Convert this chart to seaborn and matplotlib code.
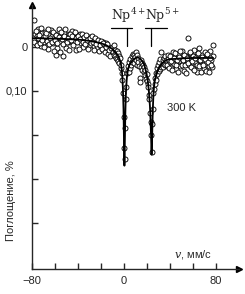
import numpy as np
import pandas as pd
import matplotlib
matplotlib.use("Agg")
import matplotlib.pyplot as plt
import seaborn as sns

# ---------------------------------
# DATA
# ---------------------------------
# velocity, mm/s  /  absorption (0,10 tick = 0.10)
left_v = [-78, -77, -76, -75, -74, -73, -72, -71, -70, -69, -68, -67, -66, -65,
          -64, -63, -62, -61, -60, -59, -58, -57, -56, -55, -54, -53, -52, -51,
          -50, -49, -48, -47, -46, -45, -44, -43, -42, -41, -40, -39, -38, -37,
          -36, -35, -34, -33, -32, -31, -30, -29, -28, -27, -26, -25, -24, -23,
          -22, -21, -20, -19, -18, -17, -16, -15, -14, -13, -12, -11, -10, -9]
left_a = [-0.061, -0.030, -0.008, -0.025, -0.040, -0.018, -0.002, -0.031, -0.022,
          -0.012, -0.035, -0.020, 0.004, -0.027, -0.015, -0.038, -0.024, -0.009,
          -0.030, 0.018, 0.002, -0.026, -0.042, -0.014, -0.021, 0.020, -0.032,
          -0.017, 0.003, -0.024, -0.011, -0.029, -0.019, -0.036, -0.008, -0.023,
          -0.014, 0.006, -0.027, -0.016, -0.030, -0.010, -0.021, 0.001, -0.018,
          -0.025, -0.008, -0.015, -0.022, -0.004, -0.013, -0.019, -0.002, -0.011,
          -0.016, 0.003, -0.009, -0.014, 0.001, -0.006, -0.012, 0.005, -0.003,
          -0.008, 0.008, 0.000, 0.012, 0.004, 0.010, 0.015]

left2_v = [-77.5, -76.5, -75.5, -74.5, -73.5, -72.5, -71.5, -70.5, -69.5, -68.5,
           -67.5, -66.5, -65.5, -64.5, -63.5, -62.5, -61.5, -60.5, -59.5, -58.5,
           -57.5, -56.5, -55.5, -54.5, -53.5, -52.5, -51.5, -50.5, -49.5, -48.5,
           -47.5, -46.5, -45.5, -44.5, -43.5, -42.5, -41.5, -40.5, -39.5, -38.5,
           -37.5, -36.5, -35.5, -34.5, -33.5, -32.5, -31.5, -30.5, -29.5, -28.5,
           -27.5, -26.5, -25.5, -24.5, -23.5, -22.5, -21.5, -20.5, -19.5, -18.5,
           -17.5, -16.5, -15.5, -14.5, -13.5, -12.5, -11.5, -10.5, -9.5]
left2_a = [-0.012, -0.036, -0.004, -0.020, -0.028, -0.010, -0.044, -0.016, 0.000,
           -0.024, -0.032, -0.014, -0.040, -0.006, -0.020, -0.012, -0.034, 0.008,
           -0.016, -0.028, -0.010, -0.022, 0.012, -0.034, -0.018, -0.006, -0.026,
           -0.040, -0.012, -0.020, 0.006, -0.030, -0.016, -0.024, -0.004, -0.033,
           -0.020, -0.012, -0.026, 0.004, -0.018, -0.030, -0.012, -0.022, -0.006,
           -0.028, -0.016, 0.004, -0.020, -0.008, -0.024, -0.012, 0.006, -0.020,
           -0.006, -0.016, 0.010, -0.004, -0.014, 0.004, -0.008, 0.012, 0.000,
           -0.006, 0.016, 0.006, 0.020, 0.002, 0.012]

center_v = [-8.5, -8, -7.5, -7, -6.5, -6, -5.5, -5, -4.5, -4, -3.5, -3, -2.5, -2,
            -1.5, -1, -0.5, 0, 0.5, 1, 1.5, 2, 2.5, 3, 3.5, 4, 4.5, 5, 5.5, 6,
            6.5, 7, 7.5, 8, 8.5, 9, 9.5, 10, 10.5, 11, 11.5, 12, 12.5, 13, 13.5,
            14, 14.5, 15, 15.5, 16, 16.5, 17, 17.5, 18, 18.5, 19, 19.5, 20, 20.5,
            21, 21.5, 22, 22.5, 23, 23.5, 24, 24.5, 25, 25.5, 26, 26.5, 27, 27.5,
            28, 28.5, 29, 29.5, 30, 30.5, 31, 31.5, 32, 32.5, 33, 33.5, 34, 34.5,
            35, 35.5, 36, 36.5, 37, 37.5]
center_a = [0.018, -0.004, 0.020, 0.006, 0.024, 0.010, 0.028, 0.014, 0.032, 0.020,
            0.036, 0.026, 0.048, 0.040, 0.060, 0.075, 0.105, 0.160, 0.230, 0.255,
            0.185, 0.118, 0.090, 0.060, 0.052, 0.044, 0.058, 0.035, 0.048, 0.028,
            0.040, 0.020, 0.034, 0.016, 0.030, 0.018, 0.036, 0.022, 0.012, 0.030,
            0.018, 0.040, 0.024, 0.034, 0.044, 0.070, 0.080, 0.030, 0.046, 0.036,
            0.052, 0.040, 0.058, 0.046, 0.064, 0.052, 0.072, 0.062, 0.078, 0.085,
            0.092, 0.110, 0.118, 0.150, 0.170, 0.200, 0.238, 0.175, 0.140, 0.105,
            0.095, 0.070, 0.085, 0.060, 0.075, 0.048, 0.062, 0.040, 0.055, 0.034,
            0.050, 0.028, 0.045, 0.011, 0.040, 0.030, 0.046, 0.024, 0.038, 0.020,
            0.042, 0.030, 0.044]

right_v = [38, 39, 40, 41, 42, 43, 44, 45, 46, 47, 48, 49, 50, 51, 52, 53, 54, 55,
           56, 57, 58, 59, 60, 61, 62, 63, 64, 65, 66, 67, 68, 69, 70, 71, 72, 73,
           74, 75, 76, 77, 78]
right_a = [0.040, 0.018, 0.034, 0.046, 0.022, 0.012, 0.038, 0.028, 0.050, 0.016,
           0.032, 0.044, 0.024, 0.010, 0.036, 0.054, 0.020, 0.030, -0.020, 0.042,
           0.014, 0.026, 0.048, 0.006, 0.034, 0.020, 0.056, 0.028, 0.002, 0.040,
           0.018, 0.030, 0.050, 0.012, 0.036, 0.024, 0.044, 0.008, 0.030, 0.046,
           0.020]

right2_v = [38.5, 39.5, 40.5, 41.5, 42.5, 43.5, 44.5, 45.5, 46.5, 47.5, 48.5, 49.5,
            50.5, 51.5, 52.5, 53.5, 54.5, 55.5, 56.5, 57.5, 58.5, 59.5, 60.5, 61.5,
            62.5, 63.5, 64.5, 65.5, 66.5, 67.5, 68.5, 69.5, 70.5, 71.5, 72.5, 73.5,
            74.5, 75.5, 76.5, 77.5]
right2_a = [0.028, 0.048, 0.020, 0.032, 0.052, 0.026, 0.014, 0.040, 0.030, 0.056,
            0.022, 0.008, 0.042, 0.030, 0.018, 0.040, 0.060, 0.024, 0.036, 0.012,
            0.046, 0.032, 0.020, 0.052, 0.026, 0.040, 0.014, 0.044, 0.030, 0.058,
            0.022, 0.040, 0.028, 0.054, 0.016, 0.034, 0.058, 0.024, 0.040, -0.004]

# fitted curve
fit_v = [-80, -60, -40, -30, -20, -15, -10, -8, -6, -5, -4, -3, -2, -1.5, -1, -0.5,
         0, 0.4, 0.8, 1.2, 1.6, 2, 2.5, 3, 3.5, 4, 5, 6, 8, 10, 12, 13, 14, 16, 18,
         20, 21, 22, 23, 23.5, 24, 24.4, 24.8, 25.2, 25.6, 26, 26.5, 27, 28, 29.6,
         31, 34, 37, 40, 50, 60, 70, 78]
fit_a = [-0.020, -0.019, -0.017, -0.014, -0.009, -0.004, 0.004, 0.009, 0.015, 0.019,
         0.024, 0.031, 0.042, 0.052, 0.068, 0.095, 0.140, 0.210, 0.270, 0.210,
         0.150, 0.110, 0.085, 0.068, 0.058, 0.051, 0.042, 0.037, 0.030, 0.026,
         0.024, 0.024, 0.026, 0.031, 0.040, 0.060, 0.075, 0.098, 0.135, 0.165,
         0.205, 0.245, 0.215, 0.170, 0.135, 0.110, 0.092, 0.080, 0.068, 0.055,
         0.046, 0.036, 0.030, 0.028, 0.026, 0.025, 0.025, 0.025]

# Np sites: marker position, bracket extent
site_labels = [r"$\mathrm{Np}^{4+}$", r"$\mathrm{Np}^{5+}$"]
site_v = [3.0, 24.3]
site_bar = [(-11.3, 7.0), (18.3, 37.4)]

x_ticks = [-80, -60, -40, -20, 0, 20, 40, 60, 80]
x_ticklabels = ["\u221280", "", "", "", "0", "", "", "", "80"]
y_ticks = [0, 0.1, 0.2, 0.3, 0.4]
y_ticklabels = ["0", "0,10", "", "", ""]

pts = pd.DataFrame({"v": left_v + left2_v + center_v + right_v + right2_v,
                    "a": left_a + left2_a + center_a + right_a + right2_a})
fit = pd.DataFrame({"v": fit_v, "a": fit_a})

# ---------------------------------
# PLOT
# ---------------------------------
sns.set_style("ticks")
plt.rcParams["font.family"] = ["Liberation Sans", "DejaVu Sans"]
plt.rcParams["mathtext.fontset"] = "dejavuserif"

fig = plt.figure(figsize=(2.45, 2.94), dpi=100)
ax = fig.add_axes([31.5 / 245, 25 / 294, 207 / 245, 264 / 294])

sns.scatterplot(data=pts, x="v", y="a", ax=ax, s=13, marker="o",
                facecolor="white", edgecolor="black", linewidth=0.65, zorder=2)
sns.lineplot(data=fit, x="v", y="a", ax=ax, color="black", linewidth=1.3,
             zorder=3, sort=False)

ax.set_xlim(-80, 100)
ax.set_ylim(0.505, -0.0955)

sns.despine(ax=ax)
for s in ["left", "bottom"]:
    ax.spines[s].set_linewidth(1.0)
ax.plot(1, 0, ">k", markersize=4, transform=ax.transAxes, clip_on=False)
ax.plot(0, 1, "^k", markersize=4, transform=ax.transAxes, clip_on=False)

ax.set_xticks(x_ticks)
ax.set_xticklabels(x_ticklabels)
ax.set_yticks(y_ticks)
ax.set_yticklabels(y_ticklabels)
ax.tick_params(direction="in", length=4, width=1.0, labelsize=8, pad=3)
ax.tick_params(axis="x", pad=5)

ax.set_xlabel("")
ax.set_ylabel("Поглощение, %", fontsize=8)
ax.yaxis.set_label_coords(-0.075, 0.26)

ax.text(44, 0.473, "$v$, мм/с", fontsize=8, ha="left", va="center")
ax.text(50, 0.139, "300 K", fontsize=8, ha="center", va="center")

# site markers
for lab, v, (b0, b1) in zip(site_labels, site_v, site_bar):
    ax.plot([b0, b1], [-0.043, -0.043], color="black", lw=0.9)
    ax.plot([v, v], [-0.043, -0.002], color="black", lw=0.9)
    ax.text(b0, -0.050, lab, fontsize=9, ha="left", va="bottom")

fig.savefig("out.png", dpi=100)
